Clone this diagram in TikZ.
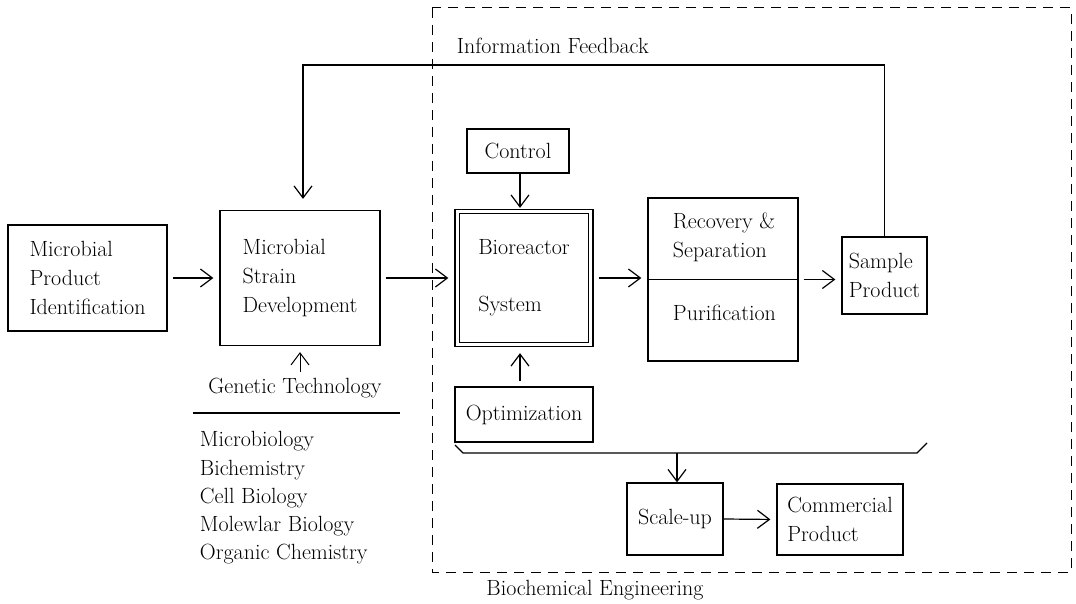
\documentclass[tikz,border=0pt]{standalone}
\usepackage{fontspec}
\usepackage{tikz}
\usetikzlibrary{arrows.meta, positioning}

\begin{document}
\begin{tikzpicture}[x=1pt,y=-1pt,
    font=\fontsize{22}{29}\selectfont,
    line width=1.2pt,
    >={Straight Barb[length=12pt,width=18pt]},
    blok/.style 2 args={draw, minimum width=#1, minimum height=#2,
        inner sep=0pt, align=left},
    flow/.style={->, shorten >=6pt, shorten <=5pt},
    frame/.style={draw, dash pattern=on 10pt off 7pt, line width=1pt}]
    \useasboundingbox (0,0) rectangle (1076,604);
    % Add the outer frame
    \draw[frame] (432,8) rectangle (1071,572);
    \node[anchor=west] (infofb) at (453,46) {Information Feedback};
    \node (bioeng) at (595,590) {Biochemical Engineering};
    % Add the boxes
        \node[blok={159pt}{106pt}
              ] (ident) at (87.5,278) {Microbial\\Product\\Identification};
        \node[blok={160pt}{135pt}
              ] (strain) at (300,278) {Microbial\\Strain\\Development};
        \node[blok={102pt}{44pt}
              ] (control) at (518,151) {Control};
        \node[blok={138pt}{137pt}
              ] (bio) at (524,278) {Bioreactor\\[28pt]System};
        \draw ([shift={(5pt,-5pt)}]bio.north west) rectangle ([shift={(-5pt,5pt)}]bio.south east);
        \node[blok={138pt}{55pt}
              ] (opt) at (524,414.5) {Optimization};
        \node[blok={150pt}{163pt}
              ] (rec) at (723,279.5) {};
        \node[anchor=west,
              align=left
              ] (rectop) at (669,237) {Recovery \&\\Separation};
        \node[anchor=west
              ] (recbot) at (669,313) {Purification};
        \draw (rec.west) -- (rec.east);
        \node[blok={85pt}{77pt}
              ] (sample) at (884.5,275.5) {Sample\\Product};
        \node[blok={96pt}{72pt}
              ] (scaleup) at (675,519) {Scale-up};
        \node[blok={126pt}{71pt}
              ] (comm) at (840,519.5) {Commercial\\Product};
    % Add the supporting fields
        \node (gentech) at (295,388) {Genetic Technology};
        \node[anchor=west,
              align=left,
              font=\fontsize{22}{28.3}\selectfont
              ] (fields) at (196,498) {Microbiology\\Bichemistry\\Cell Biology\\Molewlar Biology\\Organic Chemistry};
        \draw (193,413) -- (400,413);
    % Add the bracket under the reactor part
        \coordinate (brk) at (677,453);
        \draw (455,445) -- (463,453) -- (917,453) -- (927,443);
        \coordinate (fbk) at (600,65);

       \path
            (ident.east |- 0,278) edge[flow] (strain.west |- 0,278)
            (strain.east) edge[flow] (bio.west)
            (bio.east) edge[flow] (bio.east -| rec.west)
            (rec.east) edge[flow] (rec.east -| sample.west)
            (control.south -| 520,0) edge[flow, shorten <=0pt, shorten >=1pt] (bio.north -| 520,0)
            (opt.north -| 520,0) edge[flow] (bio.south -| 520,0)
            (scaleup.east) edge[flow, shorten <=0pt] (comm.west)
            ;
       \draw[->] (brk) -- (brk |- scaleup.north);
       \draw[->, line width=1pt, shorten >=6pt, shorten <=2pt]
            (gentech.north -| 300,0) -- (strain.south);
       \draw[->, shorten >=11pt]
            (sample.north) |- (fbk) -| (strain.north -| 303,0);
    \end{tikzpicture}
\end{document}
